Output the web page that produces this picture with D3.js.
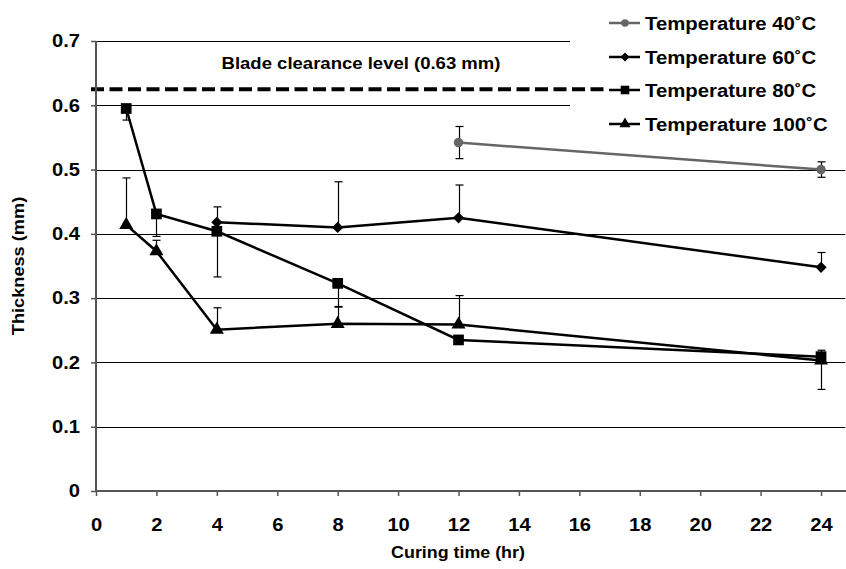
<!DOCTYPE html>
<html>
<head>
<meta charset="utf-8">
<script src="https://cdn.jsdelivr.net/npm/d3@7"></script>
<style>
  body { margin: 0; background: #fff; }
  svg text { font-family: "Liberation Sans", Arial, sans-serif; font-weight: bold; fill: #000; }
</style>
</head>
<body>
<svg id="chart" width="846" height="569"></svg>
<script>
// Chart data
const xTicks = [0, 2, 4, 6, 8, 10, 12, 14, 16, 18, 20, 22, 24];
const yTicks = [0, 0.1, 0.2, 0.3, 0.4, 0.5, 0.6, 0.7];
const yTickLabels = ['0', '0.1', '0.2', '0.3', '0.4', '0.5', '0.6', '0.7'];

const time40 = [12, 24];
const thick40 = [0.542, 0.500];
const err40 = [0.025, 0.012];          // plus and minus

const time60 = [4, 8, 12, 24];
const thick60 = [0.418, 0.410, 0.425, 0.348];
const err60 = [0.024, 0.071, 0.051, 0.023];   // plus only

const time80 = [1, 2, 4, 8, 12, 24];
const thick80 = [0.595, 0.431, 0.404, 0.323, 0.235, 0.209];
const err80 = [0.018, 0.035, 0.071, 0.036, 0.002, 0.051];  // minus only

const time100 = [1, 2, 4, 8, 12, 24];
const thick100 = [0.414, 0.373, 0.251, 0.260, 0.259, 0.203];
const err100 = [0.073, 0.017, 0.034, 0.026, 0.045, 0.016]; // plus only

const bladeLevel = 0.625;
const bladeLabel = 'Blade clearance level (0.63 mm)';

const seriesNames = ['Temperature 40˚C', 'Temperature 60˚C', 'Temperature 80˚C', 'Temperature 100˚C'];

const svg = d3.select('#chart');

const x = d3.scaleLinear().domain([0, 24.8]).range([96, 845.2]);
const y = d3.scaleLinear().domain([0, 0.7]).range([491, 41]);

// text in the picture is a little wider than the font, so stretch it
function label(px, py, str, size, sx, anchor, rot) {
    return svg.append('text')
        .attr('transform', `translate(${px},${py})` + (rot ? ` rotate(${rot})` : '') + ` scale(${sx},1)`)
        .attr('text-anchor', anchor)
        .attr('font-size', size)
        .text(str);
}

// Horizontal gridlines
const grid = svg.append('g');
yTicks.filter(d => d > 0).forEach(v => {
    grid.append('line')
        .attr('x1', x(0)).attr('x2', x.range()[1])
        .attr('y1', Math.round(y(v)) + 0.5).attr('y2', Math.round(y(v)) + 0.5)
        .attr('stroke', '#000').attr('stroke-width', 1);
});

// Legend background covers the top right of the plot
svg.append('rect')
    .attr('x', 570).attr('y', 0).attr('width', 276).attr('height', 150)
    .attr('fill', '#fff');

// Blade clearance line and label
svg.append('line')
    .attr('x1', 91).attr('x2', 605)
    .attr('y1', y(bladeLevel)).attr('y2', y(bladeLevel))
    .attr('stroke', '#000').attr('stroke-width', 4)
    .attr('stroke-dasharray', '13,5.5');

label(361, 69, bladeLabel, 17, 1.09, 'middle');

// Axes
const yAxis = svg.append('g')
    .attr('transform', `translate(${x(0)},0)`)
    .call(d3.axisLeft(y).tickValues(yTicks).tickFormat((d, i) => yTickLabels[i]).tickSize(5));
const xAxis = svg.append('g')
    .attr('transform', `translate(0,${y(0)})`)
    .call(d3.axisBottom(x).tickValues(xTicks).tickSize(5));

[yAxis, xAxis].forEach(a => {
    a.select('.domain').attr('stroke', '#555').attr('stroke-width', 2);
    a.selectAll('.tick line').attr('stroke', '#555').attr('stroke-width', 1.5);
    a.selectAll('text').attr('font-size', 18)
        .attr('font-family', '"Liberation Sans", Arial, sans-serif')
        .attr('font-weight', 'bold').attr('fill', '#000')
        .attr('transform', 'scale(1.12,1)');
});
yAxis.selectAll('text').attr('x', -16 / 1.12);
xAxis.selectAll('text').attr('y', 27);
yAxis.select('.domain').attr('d', `M0,${y(0)}V${y(0.7)}`);
xAxis.select('.domain').attr('d', `M${x(0)},0H846`);

// Axis titles
label(458, 558, 'Curing time (hr)', 17, 1.05, 'middle');
label(24, 266, 'Thickness (mm)', 17, 1.07, 'middle', -90);

// Marker shapes
const symbolFor = {
    circle: d3.symbol().type(d3.symbolCircle).size(70),
    diamond: d3.symbol().type(d3.symbolDiamond2).size(80),
    square: d3.symbol().type(d3.symbolSquare).size(115),
    triangle: d3.symbol().type(d3.symbolTriangle).size(85)
};

const series = [
    { times: time40, vals: thick40, errs: err40, dir: 'both', color: '#666', shape: 'circle' },
    { times: time60, vals: thick60, errs: err60, dir: 'plus', color: '#000', shape: 'diamond' },
    { times: time80, vals: thick80, errs: err80, dir: 'minus', color: '#000', shape: 'square' },
    { times: time100, vals: thick100, errs: err100, dir: 'plus', color: '#000', shape: 'triangle' }
];

const line = d3.line().x(d => x(d.t)).y(d => y(d.v));

// Error bars first, then lines and markers
const errG = svg.append('g');
series.forEach(s => {
    s.times.forEach((t, i) => {
        const v = s.vals[i], e = s.errs[i];
        const hi = s.dir === 'minus' ? v : v + e;
        const lo = s.dir === 'plus' ? v : v - e;
        const cx = Math.round(x(t)) + 0.5;
        errG.append('line').attr('x1', cx).attr('x2', cx)
            .attr('y1', y(hi)).attr('y2', y(lo))
            .attr('stroke', '#000').attr('stroke-width', 1.2);
        if (s.dir !== 'minus') {
            errG.append('line').attr('x1', cx - 4).attr('x2', cx + 4)
                .attr('y1', y(hi)).attr('y2', y(hi))
                .attr('stroke', '#000').attr('stroke-width', 1.2);
        }
        if (s.dir !== 'plus') {
            errG.append('line').attr('x1', cx - 4).attr('x2', cx + 4)
                .attr('y1', y(lo)).attr('y2', y(lo))
                .attr('stroke', '#000').attr('stroke-width', 1.2);
        }
    });
});

series.forEach(s => {
    const pts = s.times.map((t, i) => ({ t: t, v: s.vals[i] }));
    svg.append('path')
        .datum(pts)
        .attr('d', line)
        .attr('fill', 'none')
        .attr('stroke', s.color)
        .attr('stroke-width', 2.5);
    svg.selectAll(null)
        .data(pts)
        .enter()
        .append('path')
        .attr('d', symbolFor[s.shape])
        .attr('transform', d => `translate(${x(d.t)},${y(d.v)})`)
        .attr('fill', s.color);
});

// Legend
const legendY = [23, 57, 90, 124];
series.forEach((s, i) => {
    const g = svg.append('g').attr('transform', `translate(609,${legendY[i]})`);
    g.append('line').attr('x1', 0).attr('x2', 31).attr('y1', 0).attr('y2', 0)
        .attr('stroke', s.color).attr('stroke-width', 2.5);
    g.append('path').attr('d', symbolFor[s.shape]).attr('transform', 'translate(16,0) scale(0.8)')
        .attr('fill', s.color);
    label(645, legendY[i] + 6.5, seriesNames[i], 18, 1.13, 'start');
});
</script>
</body>
</html>
